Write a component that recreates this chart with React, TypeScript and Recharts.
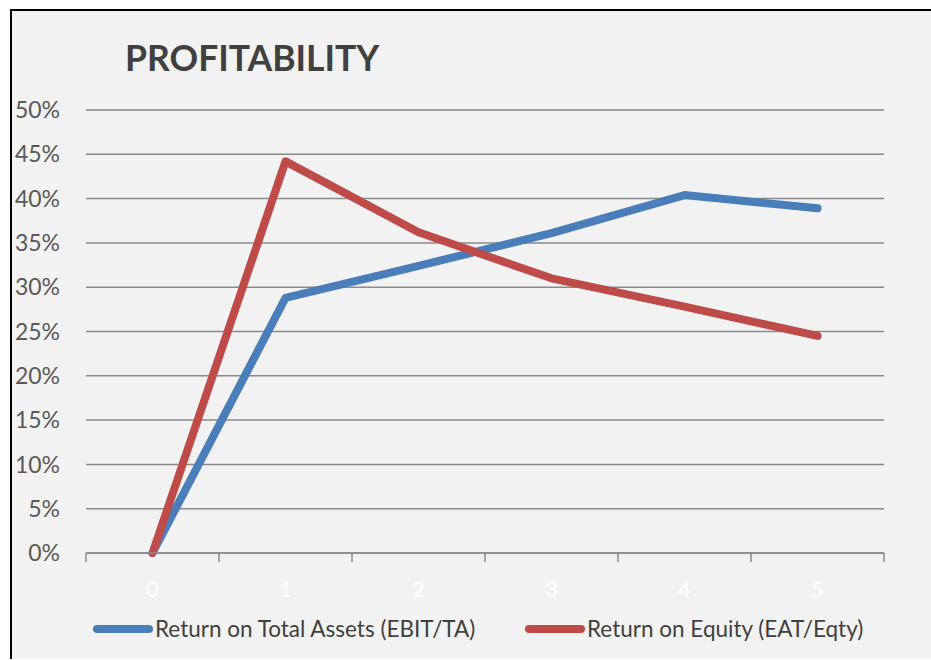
import React from 'react';
import { LineChart, Line, XAxis, YAxis, CartesianGrid, Legend } from 'recharts';

// period index on the x axis
const periods = ['0', '1', '2', '3', '4', '5'];
// Return on Total Assets (EBIT/TA), %
const roaValues = [0, 28.8, 32.4, 36.1, 40.4, 38.9];
// Return on Equity (EAT/Eqty), %
const roeValues = [0, 44.2, 36.2, 31.0, 27.8, 24.5];
const yTicks = [0, 5, 10, 15, 20, 25, 30, 35, 40, 45, 50];

const seriesNames = ['Return on Total Assets (EBIT/TA)', 'Return on Equity (EAT/Eqty)'];
const seriesColors = ['#4a7ebb', '#be4b48'];

const data = periods.map((p, i) => ({ period: p, roa: roaValues[i], roe: roeValues[i] }));

const FONT = 'Lato, "Open Sans", sans-serif';
const CHART_W = 919;
const CHART_H = 648;
const MARGIN = { top: 99, right: 47, left: 0, bottom: 0 };
const Y_AXIS_W = 74;
const PLOT_W = CHART_W - MARGIN.left - MARGIN.right - Y_AXIS_W;
const BAND = PLOT_W / periods.length;
const GRID = '#8a8a8a';

function XTick(props: any) {
  const { x, y, payload, index } = props;
  const left = x - BAND / 2;
  return (
    <g>
      <line x1={left} x2={left} y1={y} y2={y + 9} stroke={GRID} strokeWidth={1.5} />
      {index === periods.length - 1 && (
        <line x1={x + BAND / 2} x2={x + BAND / 2} y1={y} y2={y + 9} stroke={GRID} strokeWidth={1.5} />
      )}
      <text x={x} y={y + 35} textAnchor="middle" dominantBaseline="central" fill="#ffffff" fontSize={22} fontFamily={FONT}>
        {payload.value}
      </text>
    </g>
  );
}

function renderLegend() {
  const lefts = [81, 513];
  return (
    <div style={{ position: 'relative', height: 61, fontFamily: FONT, fontSize: 22.5, color: '#404040' }}>
      {seriesNames.map((name, i) => (
        <div
          key={name}
          style={{ position: 'absolute', left: lefts[i], top: 0, height: 61, display: 'flex', alignItems: 'center', whiteSpace: 'nowrap' }}
        >
          <span style={{ display: 'inline-block', width: 60, height: 8, borderRadius: 4, background: seriesColors[i] }} />
          <span style={{ marginLeft: 2 }}>{name}</span>
        </div>
      ))}
    </div>
  );
}

export default function App() {
  return (
    <div
      style={{
        position: 'fixed',
        left: 10,
        top: 9,
        width: CHART_W,
        height: CHART_H,
        borderLeft: '2px solid #000',
        borderTop: '2px solid #000',
        background: '#f2f2f2',
      }}
    >
      <div
        style={{
          position: 'absolute',
          left: 113,
          top: 29,
          fontFamily: FONT,
          fontSize: 35.5,
          lineHeight: '35px',
          fontWeight: 700,
          color: '#404040',
        }}
      >
        PROFITABILITY
      </div>
      <LineChart width={CHART_W} height={CHART_H} data={data} margin={MARGIN}>
        <CartesianGrid horizontal vertical={false} stroke={GRID} strokeWidth={1.5} />
        <XAxis
          dataKey="period"
          height={45}
          padding={{ left: BAND / 2, right: BAND / 2 }}
          axisLine={{ stroke: GRID, strokeWidth: 1.5 }}
          tickLine={false}
          tickSize={0}
          tickMargin={0}
          tick={<XTick />}
          interval={0}
        />
        <YAxis
          width={Y_AXIS_W}
          domain={[0, 50]}
          ticks={yTicks}
          axisLine={false}
          tickLine={false}
          tickSize={0}
          tickMargin={26}
          tickFormatter={(v: number) => `${v}%`}
          tick={{ fill: '#595959', fontSize: 23, fontFamily: FONT }}
        />
        <Legend verticalAlign="bottom" height={61} content={renderLegend} wrapperStyle={{ left: 0, width: CHART_W }} />
        <Line
          type="linear"
          dataKey="roa"
          name={seriesNames[0]}
          stroke={seriesColors[0]}
          strokeWidth={8}
          strokeLinecap="round"
          strokeLinejoin="round"
          dot={false}
          isAnimationActive={false}
        />
        <Line
          type="linear"
          dataKey="roe"
          name={seriesNames[1]}
          stroke={seriesColors[1]}
          strokeWidth={8}
          strokeLinecap="round"
          strokeLinejoin="round"
          dot={false}
          isAnimationActive={false}
        />
      </LineChart>
    </div>
  );
}
